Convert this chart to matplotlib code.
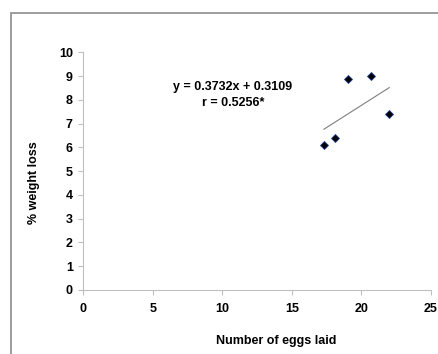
import matplotlib
matplotlib.use("Agg")
import matplotlib.pyplot as plt
import matplotlib.patches as patches

# data
eggs = [17.3, 18.1, 19.0, 20.7, 22.0]
weight_loss = [6.1, 6.4, 8.9, 9.0, 7.4]
slope, intercept = 0.3732, 0.3109
r_value = "0.5256*"
x_ticks = [0, 5, 10, 15, 20, 25]
y_ticks = list(range(0, 11))

plt.rcParams["font.family"] = ["Liberation Sans", "DejaVu Sans"]
plt.rcParams["font.weight"] = "bold"

fig = plt.figure(figsize=(4.38, 3.54), dpi=100)
fig.patch.set_facecolor("white")

# outer gray chart-area frame (runs off the right and bottom edges)
fig.add_artist(patches.Rectangle((11 / 438, -0.1), 1.2, 1 - 13 / 354 + 0.1,
                                 transform=fig.transFigure, fill=False,
                                 ec="#8c8c8c", lw=1.2))

ax = fig.add_axes([0.190, 0.1808, 0.794, 0.671])
ax.set_xlim(0, 25)
ax.set_ylim(0, 10)
ax.set_xticks(x_ticks)
ax.set_yticks(y_ticks)
for s in ("top", "right"):
    ax.spines[s].set_visible(False)
for s in ("left", "bottom"):
    ax.spines[s].set_color("#bfbfbf")
    ax.spines[s].set_linewidth(0.8)
ax.tick_params(axis="both", colors="#bfbfbf", labelcolor="black",
               labelsize=9, length=3.5, width=0.8, direction="out")
ax.tick_params(axis="x", pad=6)
ax.tick_params(axis="y", pad=4)
for lbl in ax.get_xticklabels() + ax.get_yticklabels():
    lbl.set_fontweight("bold")

# trend line from the regression equation over the data range
x0, x1 = min(eggs), max(eggs)
ax.plot([x0, x1], [slope * x0 + intercept, slope * x1 + intercept],
        color="#7f7f7f", lw=0.8)

ax.plot(eggs, weight_loss, linestyle="none", marker="D", markersize=4.5,
        markerfacecolor="black", markeredgecolor="#1f3f8f", markeredgewidth=0.6,
        clip_on=False)

ax.text(0.43, 0.82, f"y = {slope}x + {intercept}\nr = {r_value}",
        transform=ax.transAxes, ha="center", va="center", fontsize=9,
        fontweight="bold", linespacing=1.45)

ax.set_xlabel("Number of eggs laid", fontsize=9, fontweight="bold")
ax.set_ylabel("% weight loss", fontsize=9, fontweight="bold")
ax.xaxis.set_label_coords(0.554, -0.19)
ax.yaxis.set_label_coords(-0.124, 0.45)

fig.savefig("out.png", dpi=100, facecolor="white")
